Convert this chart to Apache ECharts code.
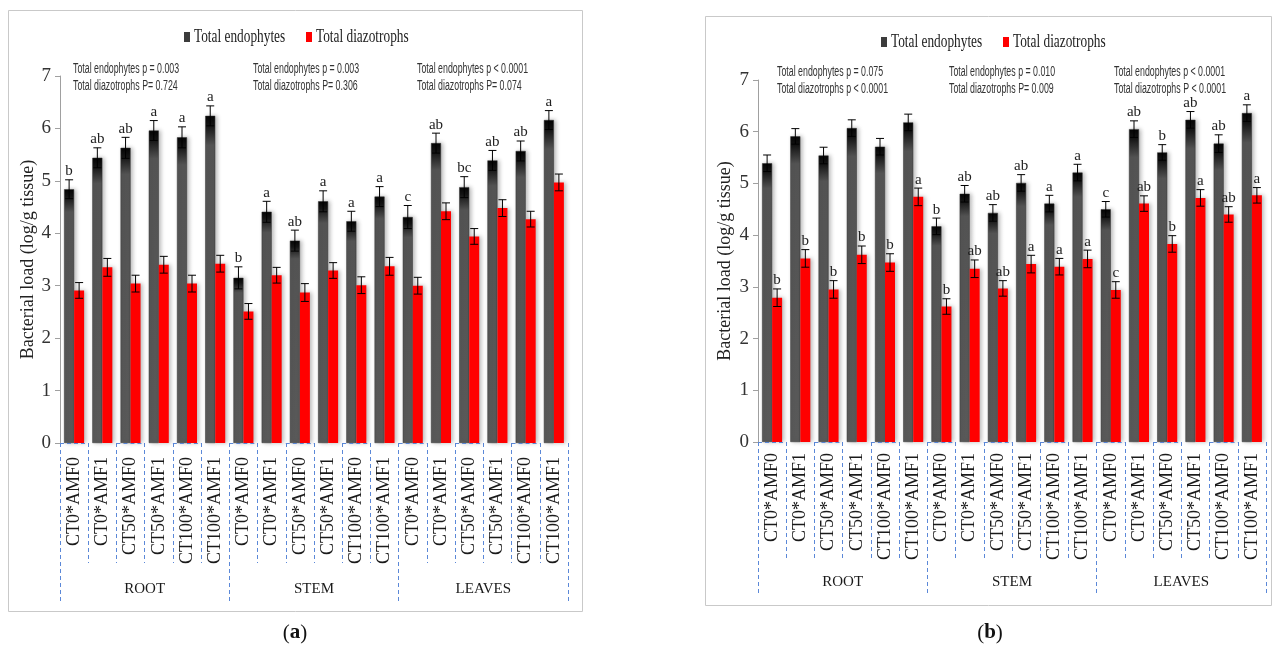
<!DOCTYPE html>
<html>
<head>
<meta charset="utf-8">
<script src="https://cdn.jsdelivr.net/npm/echarts@6/dist/echarts.min.js"></script>
<style>
  html, body { margin: 0; padding: 0; background: #ffffff; }
  #chart { width: 1276px; height: 648px; }
</style>
</head>
<body>
<div id="chart"></div>
<script>
// ---- data ----
const treatments = ['CT0*AMF0', 'CT0*AMF1', 'CT50*AMF0', 'CT50*AMF1', 'CT100*AMF0', 'CT100*AMF1'];
const organs = ['ROOT', 'STEM', 'LEAVES'];
const yTicks = [0, 7, 1]; // min, max, step

// panel (a)
const endoA = [4.84, 5.44, 5.63, 5.96, 5.83, 6.24, 3.15, 4.41, 3.86, 4.61, 4.23, 4.70, 4.31, 5.72, 4.88, 5.39, 5.57, 6.16];
const endoAErr = [0.18, 0.19, 0.20, 0.19, 0.20, 0.19, 0.21, 0.20, 0.20, 0.20, 0.19, 0.19, 0.22, 0.19, 0.20, 0.19, 0.19, 0.18];
const endoALetters = ['b', 'ab', 'ab', 'a', 'a', 'a', 'b', 'a', 'ab', 'a', 'a', 'a', 'c', 'ab', 'bc', 'ab', 'ab', 'a'];
const diazA = [2.91, 3.35, 3.04, 3.40, 3.04, 3.42, 2.51, 3.20, 2.87, 3.29, 3.01, 3.37, 3.00, 4.42, 3.94, 4.48, 4.27, 4.97];
const diazAErr = [0.15, 0.17, 0.16, 0.16, 0.16, 0.16, 0.15, 0.15, 0.17, 0.15, 0.16, 0.17, 0.16, 0.16, 0.15, 0.16, 0.15, 0.16];
const diazALetters = ['', '', '', '', '', '', '', '', '', '', '', '', '', '', '', '', '', ''];
const pTextA = [
  ['Total endophytes p = 0.003', 'Total diazotrophs P= 0.724'],
  ['Total endophytes p = 0.003', 'Total diazotrophs P= 0.306'],
  ['Total endophytes p < 0.0001', 'Total diazotrophs P= 0.074']
];

// panel (b)
const endoB = [5.39, 5.91, 5.54, 6.07, 5.71, 6.18, 4.17, 4.80, 4.43, 5.01, 4.61, 5.21, 4.50, 6.05, 5.60, 6.23, 5.77, 6.36];
const endoBErr = [0.16, 0.15, 0.16, 0.16, 0.16, 0.16, 0.16, 0.16, 0.16, 0.16, 0.16, 0.16, 0.15, 0.16, 0.15, 0.16, 0.17, 0.16];
const endoBLetters = ['', '', '', '', '', '', 'b', 'ab', 'ab', 'ab', 'a', 'a', 'c', 'ab', 'b', 'ab', 'ab', 'a'];
const diazB = [2.79, 3.55, 2.95, 3.62, 3.47, 4.74, 2.62, 3.35, 2.97, 3.44, 3.39, 3.54, 2.94, 4.61, 3.83, 4.72, 4.40, 4.77];
const diazBErr = [0.17, 0.17, 0.17, 0.17, 0.17, 0.17, 0.15, 0.17, 0.15, 0.17, 0.16, 0.17, 0.16, 0.15, 0.16, 0.16, 0.15, 0.15];
const diazBLetters = ['b', 'b', 'b', 'b', 'b', 'a', 'b', 'ab', 'ab', 'a', 'a', 'a', 'c', 'ab', 'b', 'a', 'ab', 'a'];
const pTextB = [
  ['Total endophytes p = 0.075', 'Total diazotrophs p < 0.0001'],
  ['Total endophytes p = 0.010', 'Total diazotrophs P= 0.009'],
  ['Total endophytes p < 0.0001', 'Total diazotrophs P < 0.0001']
];

const seriesNames = ['Total endophytes', 'Total diazotrophs'];
const yName = 'Bacterial load (log/g tissue)';

// ---- styling ----
const SERIF = '"Liberation Serif", "DejaVu Serif", serif';
const SANS = '"Liberation Sans", Arial, sans-serif';
const BLUE = '#5b88d8';
const RED = '#ff0000';
const BAR_W = 10;
const CAP = 8;
const darkFill = {
  type: 'linear', x: 0, y: 0, x2: 0, y2: 1,
  colorStops: [
    { offset: 0, color: '#050505' },
    { offset: 0.03, color: '#151515' },
    { offset: 0.09, color: '#545454' },
    { offset: 1, color: '#5a5a5a' }
  ]
};

const categories = organs.flatMap(() => treatments);

// panel layout
const panels = [
  {
    key: 'a', endo: endoA, endoErr: endoAErr, endoLetters: endoALetters,
    diaz: diazA, diazErr: diazAErr, diazLetters: diazALetters, pText: pTextA,
    grid: { left: 60, top: 76, width: 508, height: 367 },
    labelMargin: 14, catTick: 120, groupTick: 158, groupMargin: 139, nameGap: 23,
    frame: { x: 8.5, y: 10.5, width: 574, height: 601 },
    legendY: 37, legendX: [184, 306],
    pX: [73, 253, 417], pY: [69, 86],
    tag: { x: 295, y: 633 }
  },
  {
    key: 'b', endo: endoB, endoErr: endoBErr, endoLetters: endoBLetters,
    diaz: diazB, diazErr: diazBErr, diazLetters: diazBLetters, pText: pTextB,
    grid: { left: 758, top: 80, width: 508, height: 362 },
    labelMargin: 11, catTick: 116, groupTick: 153, groupMargin: 133, nameGap: 24,
    frame: { x: 705.5, y: 16.5, width: 566, height: 589 },
    legendY: 42, legendX: [881, 1003],
    pX: [777, 949, 1114], pY: [72, 89],
    tag: { x: 990, y: 633 }
  }
];

const grid = [], xAxis = [], yAxis = [], series = [], graphic = [];

panels.forEach((p, k) => {
  grid.push(Object.assign({ containLabel: false }, p.grid));

  const dashed = { color: BLUE, width: 1, type: [4, 3] };
  // treatment axis
  xAxis.push({
    gridIndex: k, type: 'category', data: categories, position: 'bottom', offset: 0,
    axisLine: { show: false },
    axisTick: { show: true, interval: 0, length: p.catTick, lineStyle: dashed },
    axisLabel: { interval: 0, rotate: 90, margin: p.labelMargin, fontFamily: SERIF, fontSize: 18, color: '#1a1a1a' },
    splitLine: { show: false }
  });
  // organ axis
  xAxis.push({
    gridIndex: k, type: 'category', data: organs, position: 'bottom', offset: 0,
    axisLine: { show: false },
    axisTick: { show: true, interval: 0, length: p.groupTick, lineStyle: dashed },
    axisLabel: { interval: 0, margin: p.groupMargin, fontFamily: SERIF, fontSize: 15, color: '#1a1a1a' },
    splitLine: { show: false }
  });
  yAxis.push({
    gridIndex: k, type: 'value', min: yTicks[0], max: yTicks[1], interval: yTicks[2],
    name: yName, nameLocation: 'middle', nameGap: p.nameGap,
    nameTextStyle: { fontFamily: SERIF, fontSize: 18, color: '#222' },
    axisLine: { show: true, lineStyle: { color: '#a0a0a0' } },
    axisTick: { show: true, length: 5, lineStyle: { color: '#a0a0a0' } },
    axisLabel: { fontFamily: SERIF, fontSize: 19, color: '#333', margin: 9 },
    splitLine: { show: false }
  });

  const xi = k * 2;
  const shadow = { shadowColor: 'rgba(0,0,0,0.28)', shadowBlur: 4, shadowOffsetX: 2, shadowOffsetY: 0 };
  series.push({
    name: seriesNames[0], type: 'bar', xAxisIndex: xi, yAxisIndex: k,
    data: p.endo, barWidth: BAR_W, barGap: '0%',
    itemStyle: Object.assign({ color: darkFill, borderColor: '#333', borderWidth: 0.5 }, shadow),
    emphasis: { disabled: true }
  });
  series.push({
    name: seriesNames[1], type: 'bar', xAxisIndex: xi, yAxisIndex: k,
    data: p.diaz, barWidth: BAR_W, barGap: '0%',
    itemStyle: Object.assign({ color: RED }, shadow),
    emphasis: { disabled: true }
  });

  // error bars + significance letters
  const errSeries = (vals, errs, letters, side) => ({
    type: 'custom', xAxisIndex: xi, yAxisIndex: k, z: 5, silent: true,
    data: vals.map((v, i) => [i, v, errs[i]]),
    renderItem: (params, api) => {
      const i = api.value(0), v = api.value(1), e = api.value(2);
      const hi = api.coord([i, v + e]);
      const lo = api.coord([i, v - e]);
      const x = hi[0] + side * BAR_W / 2;
      const st = { stroke: '#000', lineWidth: 1 };
      const children = [
        { type: 'line', shape: { x1: x, y1: hi[1], x2: x, y2: lo[1] }, style: st },
        { type: 'line', shape: { x1: x - CAP / 2, y1: hi[1], x2: x + CAP / 2, y2: hi[1] }, style: st },
        { type: 'line', shape: { x1: x - CAP / 2, y1: lo[1], x2: x + CAP / 2, y2: lo[1] }, style: st }
      ];
      const t = letters[params.dataIndex];
      if (t) {
        children.push({
          type: 'text', x: x, y: hi[1] - 1,
          style: { text: t, align: 'center', verticalAlign: 'bottom', font: '15px ' + SERIF, fill: '#222' }
        });
      }
      return { type: 'group', children };
    }
  });
  series.push(errSeries(p.endo, p.endoErr, p.endoLetters, -1));
  series.push(errSeries(p.diaz, p.diazErr, p.diazLetters, 1));

  // dashed box tops on alternate treatment slots
  series.push({
    type: 'custom', xAxisIndex: xi, yAxisIndex: k, z: 4, silent: true,
    data: categories.map((c, i) => i).filter(i => i % 2 === 0).map(i => [i, 0]),
    renderItem: (params, api) => {
      const c = api.coord([api.value(0), 0]);
      const w = api.size([1, 0])[0];
      return {
        type: 'line',
        shape: { x1: c[0] - w / 2, y1: c[1] + 0.5, x2: c[0] + w / 2, y2: c[1] + 0.5 },
        style: { stroke: BLUE, lineWidth: 1, lineDash: [4, 3] }
      };
    }
  });

  // panel frame
  graphic.push({
    type: 'rect', silent: true, z: -1,
    shape: p.frame,
    style: { fill: 'none', stroke: '#c9c9c9', lineWidth: 1 }
  });

  // legend
  const markColors = ['#3c3c3c', RED];
  seriesNames.forEach((n, j) => {
    graphic.push({
      type: 'rect', silent: true,
      shape: { x: p.legendX[j], y: p.legendY - 5, width: 6, height: 10 },
      style: { fill: markColors[j] }
    });
    graphic.push({
      type: 'text', silent: true, x: p.legendX[j] + 10, y: p.legendY, scaleX: 0.74,
      style: { text: n, font: '18px ' + SERIF, fill: '#222', align: 'left', verticalAlign: 'middle' }
    });
  });

  // p-value notes
  p.pText.forEach((lines, g) => {
    lines.forEach((line, r) => {
      graphic.push({
        type: 'text', silent: true, x: p.pX[g], y: p.pY[r], scaleX: 0.63,
        style: { text: line, font: '14px ' + SANS, fill: '#333', align: 'left', verticalAlign: 'middle' }
      });
    });
  });

  // panel tag
  graphic.push({
    type: 'text', silent: true, x: p.tag.x, y: p.tag.y,
    style: {
      text: '{n|(}{b|' + p.key + '}{n|)}', align: 'center', verticalAlign: 'middle',
      rich: {
        n: { fontFamily: SERIF, fontSize: 21, fill: '#111' },
        b: { fontFamily: SERIF, fontSize: 21, fontWeight: 'bold', fill: '#111' }
      }
    }
  });
});

const chart = echarts.init(document.getElementById('chart'), null, { renderer: 'canvas' });
chart.setOption({
  backgroundColor: '#ffffff',
  animation: false,
  grid, xAxis, yAxis, series, graphic
});
</script>
</body>
</html>
